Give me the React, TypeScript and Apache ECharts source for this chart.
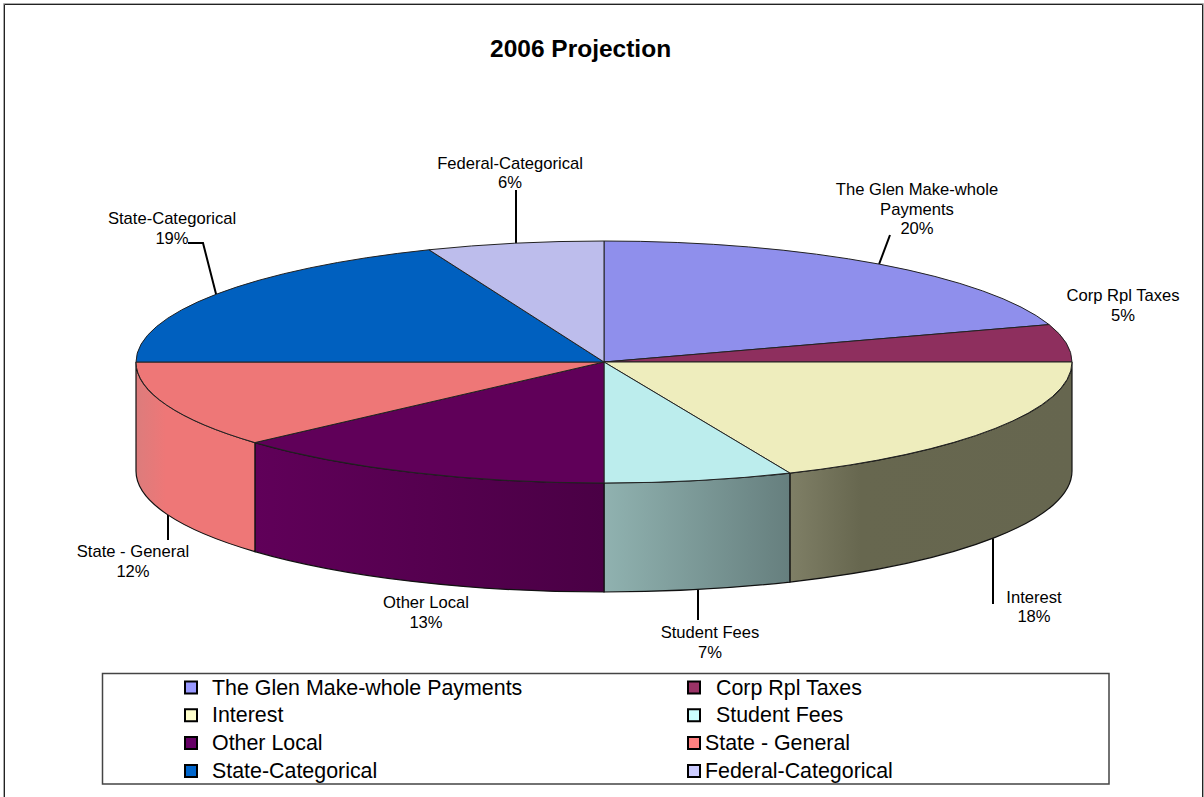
import React, { useEffect, useRef } from "react";
import * as echarts from "echarts";

const TITLE = "2006 Projection";
const categories = [
  "The Glen Make-whole Payments",
  "Corp Rpl Taxes",
  "Interest",
  "Student Fees",
  "Other Local",
  "State - General",
  "State-Categorical",
  "Federal-Categorical",
];
const shares = [20, 5, 18.5, 6.5, 13.4, 11.6, 18.9, 6.1];
const labelLines = [
  ["The Glen Make-whole", "Payments", "20%"],
  ["Corp Rpl Taxes", "5%"],
  ["Interest", "18%"],
  ["Student Fees", "7%"],
  ["Other Local", "13%"],
  ["State - General", "12%"],
  ["State-Categorical", "19%"],
  ["Federal-Categorical", "6%"],
];

// styles
const legendColors = ["#9999FF", "#993366", "#FFFFCC", "#CCFFFF", "#660066", "#FF8080", "#0066CC", "#CCCCFF"];
const topColors = ["#8F8FEC", "#8E2F5E", "#EEEDBD", "#BCEDED", "#600059", "#EE7777", "#0060BF", "#BDBDEC"];
const wallStops: ([number, string][] | null)[] = [
  null,
  null,
  [[0, "#7F7F66"], [0.25, "#67674F"], [1, "#66664F"]],
  [[0, "#90B2B0"], [1, "#667F7E"]],
  [[0, "#600059"], [1, "#4A0045"]],
  [[0, "#DC7C7C"], [0.25, "#EE7777"], [1, "#EE7777"]],
  null,
  null,
];

// layout
const W = 1204;
const H = 797;
const CX = 604;
const CY = 362;
const RX = 468;
const RY = 121;
const DEPTH = 109;
// centre of each label block
const labelCenters = [
  [917, 209], [1123, 305.5], [1034, 607], [710, 642.5], [426, 612.5], [133, 561.5], [172, 228.5], [510, 173],
];
// bends of each leader after its anchor on the rim; null means none
const leaderBends: (number[][] | null)[] = [
  [[890, 235]], null, [[993, 604]], [[698, 620]], null, [[168, 540]], [[203, 243], [188, 243]], [[516, 190]],
];
// leaders that drop straight from the rim to their end
const leaderStraight = [false, false, true, true, false, true, false, true];

const total = shares.reduce((a, b) => a + b, 0);
const starts: number[] = [];
shares.reduce((acc, v, i) => {
  starts[i] = acc;
  return acc + v;
}, 0);
const angleOf = (cum: number) => (cum / total) * Math.PI * 2;
const px = (a: number) => CX + RX * Math.sin(a);
const py = (a: number) => CY - RY * Math.cos(a);

function topPath(a0: number, a1: number) {
  const large = a1 - a0 > Math.PI ? 1 : 0;
  return `M${CX} ${CY}L${px(a0)} ${py(a0)}A${RX} ${RY} 0 ${large} 1 ${px(a1)} ${py(a1)}Z`;
}
function wallPath(a0: number, a1: number) {
  const s = Math.max(a0, Math.PI / 2);
  const e = Math.min(a1, (Math.PI * 3) / 2);
  if (e <= s) return null;
  return (
    `M${px(s)} ${py(s)}A${RX} ${RY} 0 0 1 ${px(e)} ${py(e)}` +
    `L${px(e)} ${py(e) + DEPTH}A${RX} ${RY} 0 0 0 ${px(s)} ${py(s) + DEPTH}Z`
  );
}

function renderSlice(i: number) {
  const a0 = angleOf(starts[i]);
  const a1 = angleOf(starts[i] + shares[i]);
  const mid = (a0 + a1) / 2;
  const children: any[] = [];
  const wall = wallPath(a0, a1);
  if (wall) {
    const stops = wallStops[i] || [[0, topColors[i]], [1, topColors[i]]];
    children.push({
      type: "path",
      z2: 1,
      shape: { pathData: wall },
      style: {
        fill: {
          type: "linear", x: 0, y: 0, x2: 1, y2: 0, global: false,
          colorStops: stops.map(([offset, color]) => ({ offset, color })),
        },
        stroke: "#111111",
        lineWidth: 1.2,
      },
    });
  }
  children.push({
    type: "path",
    z2: 2,
    shape: { pathData: topPath(a0, a1) },
    style: { fill: topColors[i], stroke: "#222222", lineWidth: 1 },
  });
  const bends = leaderBends[i];
  if (bends) {
    const front = Math.cos(mid) < 0;
    let start = [px(mid), py(mid) + (front ? DEPTH : 0)];
    if (leaderStraight[i]) {
      const x = bends[0][0];
      const dy = RY * Math.sqrt(1 - ((x - CX) / RX) ** 2);
      start = [x, front ? CY + dy + DEPTH : CY - dy];
    }
    children.push({
      type: "polyline",
      z2: 0,
      shape: { points: [start, ...bends] },
      style: { fill: "none", stroke: "#000", lineWidth: 2 },
    });
  }
  children.push({
    type: "text",
    z2: 3,
    style: {
      text: labelLines[i].join("\n"),
      x: labelCenters[i][0],
      y: labelCenters[i][1],
      align: "center",
      verticalAlign: "middle",
      lineHeight: 19.5,
      font: '16.6px "Liberation Sans", Arial, sans-serif',
      fill: "#000",
    },
  });
  return { type: "group", children };
}

const FONT = '"Liberation Sans", Arial, sans-serif';
const legendCommon = {
  orient: "vertical" as const,
  selectedMode: false,
  icon: "rect",
  itemWidth: 12,
  itemHeight: 12,
  itemGap: 6.8,
  itemStyle: { borderColor: "#000", borderWidth: 2 },
  top: 677,
  padding: 0,
};
const legendText = (padLeft: number) => ({
  fontFamily: FONT,
  fontSize: 21.4,
  color: "#000",
  lineHeight: 20,
  padding: [0, 0, 0, padLeft],
});

export default function App() {
  const ref = useRef<HTMLDivElement>(null);
  useEffect(() => {
    const chart = echarts.init(ref.current!, null, { renderer: "svg" });
    const leftCol = [0, 2, 4, 6];
    const rightCol = [1, 3, 5, 7];
    const rightPad = [11, 11, 0, 0];
    chart.setOption({
      animation: false,
      backgroundColor: "#fff",
      title: {
        text: TITLE,
        left: 490,
        top: 36,
        padding: 0,
        textStyle: { fontFamily: FONT, fontSize: 24.5, fontWeight: "bold", color: "#000" },
      },
      legend: [
        {
          ...legendCommon,
          left: 184,
          textStyle: legendText(10),
          data: leftCol.map((i) => categories[i]),
        },
        {
          ...legendCommon,
          left: 687,
          data: rightCol.map((i, k) => ({ name: categories[i], textStyle: legendText(rightPad[k]) })),
          textStyle: legendText(0),
        },
      ],
      graphic: [
        {
          type: "rect",
          silent: true,
          z: -1,
          shape: { x: 3.5, y: 3.5, width: 1200, height: 1000 },
          style: { fill: "#fff", stroke: "#aaaaaa", lineWidth: 1 },
        },
        {
          type: "rect",
          silent: true,
          z: -1,
          shape: { x: 4.5, y: 4.5, width: 1198, height: 1000 },
          style: { fill: "#fff", stroke: "#222222", lineWidth: 1 },
        },
        {
          type: "rect",
          silent: true,
          z: -1,
          shape: { x: 102.5, y: 673.5, width: 1006.5, height: 110.5 },
          style: { fill: "#fff", stroke: "#444444", lineWidth: 1.5 },
        },
      ],
      series: categories.map((name, i) => ({
        type: "custom",
        name,
        coordinateSystem: "none",
        silent: true,
        itemStyle: { color: legendColors[i] },
        data: [[shares[i]]],
        renderItem: () => renderSlice(i),
      })),
    });
    return () => chart.dispose();
  }, []);
  return <div ref={ref} style={{ position: "absolute", left: 0, top: 0, width: W, height: H }} />;
}
